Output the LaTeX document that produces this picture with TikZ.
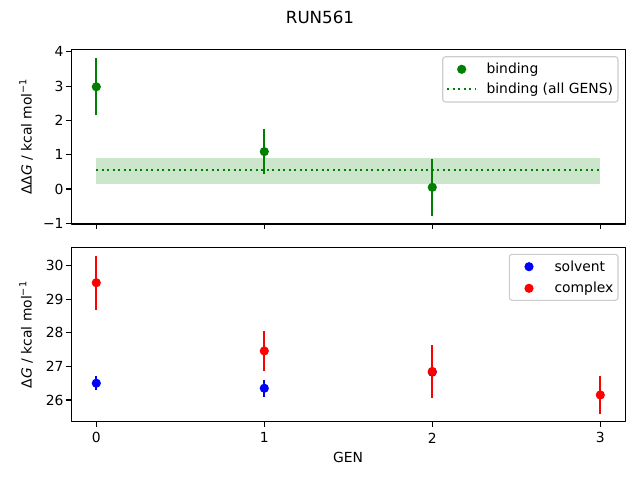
\documentclass[tikz,border=0pt]{standalone}
\usepackage{fontspec}
\setmainfont{DejaVu Sans}
\definecolor{mplgreen}{RGB}{0,128,0}
\definecolor{legframe}{RGB}{204,204,204}
\begin{document}
\begin{tikzpicture}[x=1pt,y=-1pt,line join=round,
	lbl/.style={font=\fontsize{13.9}{16}\selectfont,inner sep=0pt},
	axframe/.style={line width=1.1pt},
	tck/.style={line width=1.1pt},
	errbar/.style={line width=2.1pt},
	dotline/.style={line width=2.1pt,dash pattern=on 2.1pt off 3.4pt},
	legbox/.style={draw=legframe,fill=white,fill opacity=0.8,rounded corners=2.8pt,line width=1.1pt}]
	\useasboundingbox (0,0) rectangle (640,480);
	\node[lbl,font=\fontsize{16.7}{20}\selectfont] (title) at (320,17) {RUN561};
	% upper panel: binding
	\begin{scope}[shift={(96.3,189)},x=168pt,y=34.3pt]
		\fill[mplgreen,opacity=0.2] (0,0.155) rectangle (3,0.90);
		\draw[mplgreen,dotline] (0,0.56)--(3,0.56);
		\foreach \g/\v/\e in {0/2.98/0.83,1/1.09/0.65,2/0.05/0.83}{
			\draw[mplgreen,errbar] (\g,\v-\e)--(\g,\v+\e);
			\fill[mplgreen] (\g,\v) circle[radius=4.6pt];
		}
		\draw[axframe] (-0.15,-1.02) rectangle (3.15,4.06);
		\foreach \g in {0,1,2,3}
			\draw[tck] (\g,-1.02)--++(0,-4.9pt);
		\foreach \v/\t in {-1/−1,0/0,1/1,2/2,3/3,4/4}{
			\draw[tck] (-0.15,\v)--++(-4.9pt,0);
			\node[lbl,anchor=east] at ([xshift=-7.4pt]-0.15,\v) {\t};
		}
	\end{scope}
	\node[lbl,rotate=90] (ylabtop) at (26,136.6) {ΔΔ\textit{G} / kcal mol\textsuperscript{−1}};
	\draw[legbox] (442.7,56.7) rectangle (618,102);
	\fill[mplgreen] (461.7,69.3) circle[radius=4.6pt];
	\node[lbl,anchor=west] (legbind) at (486.3,69.3) {binding};
	\draw[mplgreen,dotline] (447,89.3)--(475,89.3);
	\node[lbl,anchor=west] (legall) at (486.3,89.3) {binding (all GENS)};
	% lower panel: solvent and complex
	\begin{scope}[shift={(96.3,1273.6)},x=168pt,y=33.6pt]
		\foreach \g/\v/\e in {0/26.50/0.20,1/26.35/0.26,2/26.83/0.20}{
			\draw[blue,errbar] (\g,\v-\e)--(\g,\v+\e);
			\fill[blue] (\g,\v) circle[radius=4.6pt];
		}
		\foreach \g/\v/\e in {0/29.49/0.81,1/27.46/0.60,2/26.85/0.78,3/26.15/0.57}{
			\draw[red,errbar] (\g,\v-\e)--(\g,\v+\e);
			\fill[red] (\g,\v) circle[radius=4.6pt];
		}
		\draw[axframe] (-0.15,25.35) rectangle (3.15,30.55);
		\foreach \g in {0,1,2,3}{
			\draw[tck] (\g,25.35)--++(0,-4.9pt);
			\node[lbl] at ([yshift=-16pt]\g,25.35) {\g};
		}
		\foreach \v in {26,27,28,29,30}{
			\draw[tck] (-0.15,\v)--++(-4.9pt,0);
			\node[lbl,anchor=east] at ([xshift=-7.4pt]-0.15,\v) {\v};
		}
	\end{scope}
	\node[lbl,rotate=90] (ylabbot) at (26,334.7) {Δ\textit{G} / kcal mol\textsuperscript{−1}};
	\node[lbl] (xlab) at (348,457.7) {GEN};
	\draw[legbox] (509.3,254.3) rectangle (618,300.3);
	\fill[blue] (529,266.7) circle[radius=4.6pt];
	\node[lbl,anchor=west] (legsolv) at (554.3,266.7) {solvent};
	\fill[red] (529,288.3) circle[radius=4.6pt];
	\node[lbl,anchor=west] (legcplx) at (554.3,288.3) {complex};
\end{tikzpicture}
\end{document}
